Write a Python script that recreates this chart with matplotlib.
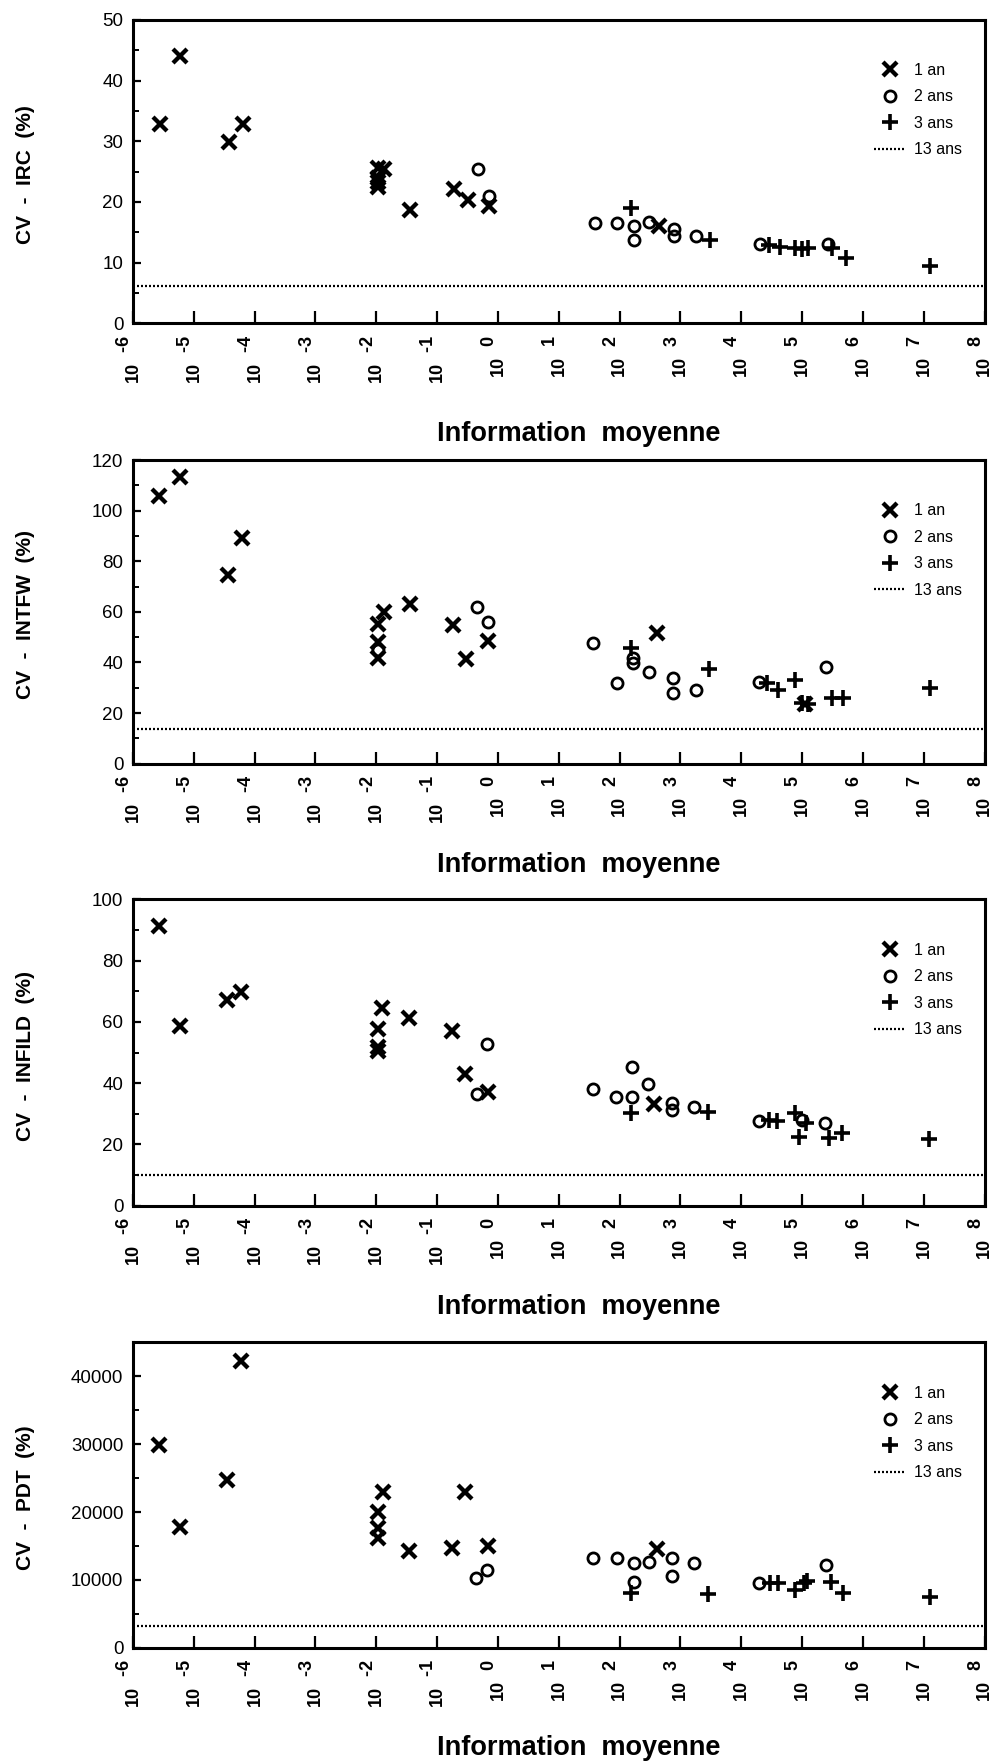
import matplotlib
matplotlib.use('Agg')
import matplotlib.pyplot as plt
from matplotlib.lines import Line2D
from matplotlib.ticker import MultipleLocator, NullLocator
from matplotlib.transforms import ScaledTranslation

plt.rcParams['font.family'] = ['Liberation Sans', 'DejaVu Sans']

# ---- data: x given as log10(Information moyenne) ----
# Panel 1 : IRC
irc_1an_x = [-5.56, -5.22, -4.42, -4.19, -1.97, -1.97, -1.97, -1.97, -1.88, -1.445, -0.73, -0.50, -0.14, 2.65]
irc_1an_y = [32.8, 44.0, 29.8, 32.8, 25.6, 24.0, 23.2, 22.5, 25.4, 18.6, 22.1, 20.3, 19.4, 16.0]
irc_2ans_x = [-0.32, -0.14, 1.59, 1.96, 2.23, 2.23, 2.49, 2.89, 2.89, 3.26, 4.31, 5.43]
irc_2ans_y = [25.5, 21.0, 16.5, 16.6, 16.0, 13.8, 16.7, 15.5, 14.3, 14.4, 13.1, 13.1]
irc_3ans_x = [2.19, 3.48, 4.45, 4.63, 4.89, 5.00, 5.09, 5.50, 5.72, 7.10]
irc_3ans_y = [19.0, 13.7, 12.9, 12.5, 12.4, 12.2, 12.4, 12.4, 10.7, 9.4]
irc_13ans = 6.2

# Panel 2 : INTFW
intfw_1an_x = [-5.57, -5.22, -4.44, -4.21, -1.98, -1.98, -1.98, -1.88, -1.445, -0.74, -0.52, -0.16, 2.62, 5.05]
intfw_1an_y = [105.9, 113.2, 74.6, 89.3, 55.1, 48.2, 41.9, 60.1, 63.1, 54.8, 41.3, 48.6, 51.8, 23.5]
intfw_2ans_x = [-1.98, -0.35, -0.17, 1.57, 1.96, 2.22, 2.22, 2.49, 2.88, 2.88, 3.25, 4.29, 5.40]
intfw_2ans_y = [44.9, 62.1, 56.1, 47.8, 32.0, 41.7, 39.7, 36.4, 33.8, 28.1, 29.1, 32.2, 38.3]
intfw_3ans_x = [2.18, 3.47, 4.43, 4.61, 4.89, 5.00, 5.10, 5.50, 5.67, 7.10]
intfw_3ans_y = [45.6, 37.3, 31.8, 29.1, 33.1, 23.9, 23.5, 25.8, 25.8, 30.0]
intfw_13ans = 13.8

# Panel 3 : INFILD
infild_1an_x = [-5.57, -5.22, -4.45, -4.23, -1.98, -1.98, -1.98, -1.90, -1.47, -0.76, -0.54, -0.17, 2.57]
infild_1an_y = [91.4, 58.7, 67.2, 69.9, 57.6, 51.9, 50.5, 64.4, 61.2, 57.0, 43.0, 37.2, 33.1]
infild_2ans_x = [-0.35, -0.18, 1.56, 1.94, 2.20, 2.20, 2.47, 2.86, 2.86, 3.23, 4.29, 5.00, 5.37]
infild_2ans_y = [36.3, 52.8, 38.1, 35.4, 45.4, 35.4, 39.7, 33.6, 31.2, 32.3, 27.7, 28.0, 27.1]
infild_3ans_x = [2.19, 3.46, 4.45, 4.59, 4.88, 4.95, 5.06, 5.45, 5.65, 7.09]
infild_3ans_y = [30.1, 30.5, 28.0, 27.7, 30.1, 22.5, 26.9, 22.0, 23.6, 21.6]
infild_13ans = 10.0

# Panel 4 : PDT
pdt_1an_x = [-5.57, -5.23, -4.45, -4.22, -1.98, -1.98, -1.98, -1.89, -1.47, -0.76, -0.54, -0.17, 2.62]
pdt_1an_y = [29900, 17770, 24750, 42300, 20070, 17710, 16240, 22930, 14280, 14670, 22930, 15060, 14520]
pdt_2ans_x = [-0.36, -0.18, 1.56, 1.96, 2.23, 2.23, 2.48, 2.86, 2.86, 3.23, 4.29, 5.40]
pdt_2ans_y = [10250, 11470, 13200, 13200, 12550, 9660, 12700, 13290, 10630, 12460, 9600, 12210]
pdt_3ans_x = [2.19, 3.46, 4.48, 4.61, 4.89, 5.03, 5.08, 5.47, 5.67, 7.10]
pdt_3ans_y = [8040, 7940, 9600, 9600, 8530, 9510, 9850, 9750, 8130, 7540]
pdt_13ans = 3200

ylabels = ['CV  -  IRC  (%)', 'CV  -  INTFW  (%)', 'CV  -  INFILD  (%)', 'CV  -  PDT  (%)']
ylims = [50, 120, 100, 45000]
ymajor = [10, 20, 20, 10000]
yminor = [5, 10, 10, 5000]
xlabel = 'Information  moyenne'
legend_labels = ['1 an', '2 ans', '3 ans', '13 ans']
decades = list(range(-6, 9))
decade_labels = ['      %d\n10' % k for k in decades]

panels = [
    (irc_1an_x, irc_1an_y, irc_2ans_x, irc_2ans_y, irc_3ans_x, irc_3ans_y, irc_13ans),
    (intfw_1an_x, intfw_1an_y, intfw_2ans_x, intfw_2ans_y, intfw_3ans_x, intfw_3ans_y, intfw_13ans),
    (infild_1an_x, infild_1an_y, infild_2ans_x, infild_2ans_y, infild_3ans_x, infild_3ans_y, infild_13ans),
    (pdt_1an_x, pdt_1an_y, pdt_2ans_x, pdt_2ans_y, pdt_3ans_x, pdt_3ans_y, pdt_13ans),
]

W, H = 1001, 1761
fig = plt.figure(figsize=(W / 100, H / 100), dpi=100)
rects_px = [(19.8, 323.3), (460.0, 763.7), (899.5, 1205.5), (1342.3, 1647.8)]
xlabel_offsets = [111, 101, 101, 100]
left_px, right_px = 133.0, 984.5

x_style = dict(linestyle='none', marker='x', ms=10.5, mew=3.1, color='black')
o_style = dict(linestyle='none', marker='o', ms=8, mew=2.0, mfc='none', mec='black')
p_style = dict(linestyle='none', marker='+', ms=11, mew=2.6, color='black')
line_style = dict(color='black', lw=1.6, linestyle=(0, (0.9, 0.9)))

label_shift = ScaledTranslation(-4 / 100, 0, fig.dpi_scale_trans)

for i, ((x1, y1, x2, y2, x3, y3, v13), (top, bot)) in enumerate(zip(panels, rects_px)):
    ax = fig.add_axes([left_px / W, 1 - bot / H, (right_px - left_px) / W, (bot - top) / H])
    ax.plot([10.0 ** e for e in x1], y1, **x_style)
    ax.plot([10.0 ** e for e in x2], y2, **o_style)
    ax.plot([10.0 ** e for e in x3], y3, **p_style)
    ax.axhline(v13, **line_style)

    ax.set_xscale('log')
    ax.set_xlim(1e-6, 1e8)
    ax.set_ylim(0, ylims[i])
    ax.set_xticks([10.0 ** k for k in decades], labels=decade_labels)
    ax.xaxis.set_minor_locator(NullLocator())
    ax.yaxis.set_major_locator(MultipleLocator(ymajor[i]))
    ax.yaxis.set_minor_locator(MultipleLocator(yminor[i]))
    ax.tick_params(axis='x', which='major', direction='in', length=9, width=1.6,
                   pad=9, labelsize=13, labelrotation=90)
    ax.tick_params(axis='y', which='major', direction='in', length=6, width=1.6,
                   pad=7, labelsize=13.5)
    ax.tick_params(axis='y', which='minor', direction='in', length=4, width=1.4)
    for t in ax.xaxis.get_major_ticks():
        lbl = t.label1
        lbl.set_multialignment('left')
        lbl.set_linespacing(0.35)
        lbl.set_fontweight('bold')
        lbl.set_transform(lbl.get_transform() + label_shift)
    for s in ax.spines.values():
        s.set_linewidth(2.2)

    ax.set_xlabel(xlabel, fontsize=19.5, fontweight='bold', va='center')
    ax.xaxis.set_label_coords(0.524, -xlabel_offsets[i] / (bot - top))
    ax.set_ylabel(ylabels[i], fontsize=15, fontweight='bold', va='center')
    ax.yaxis.set_label_coords(-0.126, 0.49)

    handles = [Line2D([], [], **x_style), Line2D([], [], **o_style),
               Line2D([], [], **p_style), Line2D([], [], **line_style)]
    ax.legend(handles, legend_labels, loc='upper left', bbox_to_anchor=(0.870, 0.858),
              frameon=False, fontsize=11.5, handlelength=2.0, handletextpad=0.5,
              labelspacing=0.72, borderaxespad=0, borderpad=0, numpoints=1)

fig.savefig('out.png', dpi=100, facecolor='white')
